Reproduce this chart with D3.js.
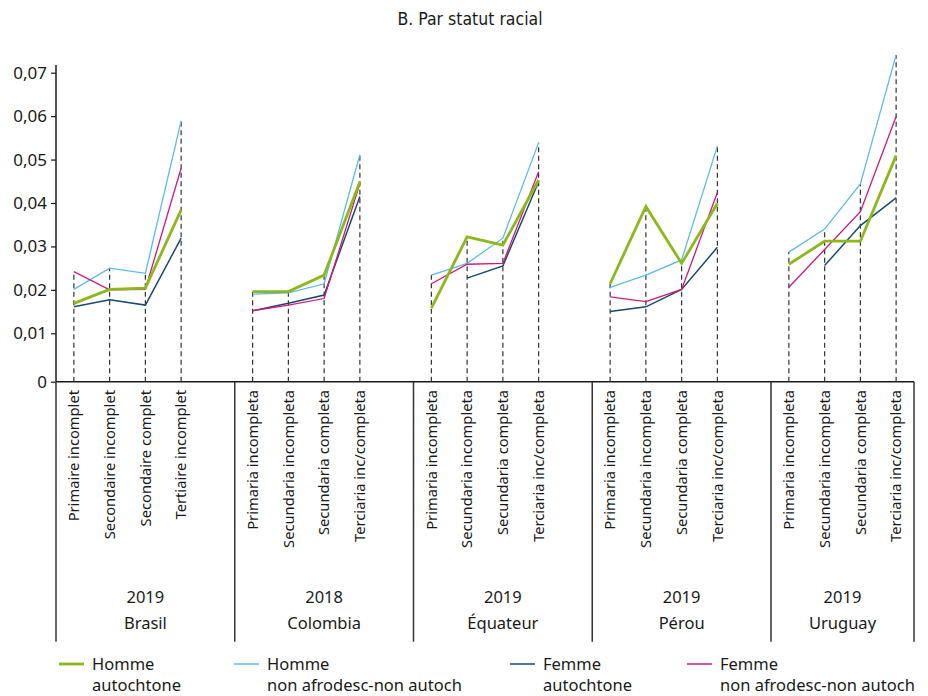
<!DOCTYPE html>
<html>
<head>
<meta charset="utf-8">
<script src="https://cdn.jsdelivr.net/npm/d3@7"></script>
<style>
  html, body { margin: 0; padding: 0; background: #fff; }
  svg { display: block; }
  text { font-family: "Noto Sans", "Open Sans", sans-serif; fill: #1a1a1a; }
</style>
</head>
<body>
<svg id="chart" width="928" height="696"></svg>
<script>
// ---------- DATA ----------
const countries = ["Brasil", "Colombia", "Équateur", "Pérou", "Uruguay"];
const years = ["2019", "2018", "2019", "2019", "2019"];
const categoriesBR = ["Primaire incomplet", "Secondaire incomplet", "Secondaire complet", "Tertiaire incomplet"];
const categoriesES = ["Primaria incompleta", "Secundaria incompleta", "Secundaria completa", "Terciaria inc/completa"];
const categoriesByCountry = [categoriesBR, categoriesES, categoriesES, categoriesES, categoriesES];

// values in order: Brasil(4), Colombia(4), Équateur(4), Pérou(4), Uruguay(4)
const hommeAutochtone = [0.0169, 0.0201, 0.0204, 0.0384,  0.0196, 0.0196, 0.0234, 0.0449,  0.0158, 0.0322, 0.0303, 0.0453,  0.0214, 0.0392, 0.0261, 0.0399,  0.0259, 0.0312, 0.0312, 0.0509];
const hommeNonAfroNonAutoch = [0.0201, 0.0250, 0.0238, 0.0589,  0.0190, 0.0193, 0.0214, 0.0511,  0.0234, 0.0261, 0.0319, 0.0539,  0.0206, 0.0234, 0.0269, 0.0531,  0.0287, 0.0340, 0.0444, 0.0741];
const femmeAutochtone = [0.0161, 0.0177, 0.0165, 0.0319,  0.0152, 0.0169, 0.0188, 0.0415,  null, 0.0227, 0.0255, 0.0449,  0.0150, 0.0161, 0.0201, 0.0298,  null, 0.0256, 0.0348, 0.0412];
const femmeNonAfroNonAutoch = [0.0242, 0.0200, 0.0201, 0.0480,  0.0152, 0.0165, 0.0180, 0.0445,  0.0214, 0.0259, 0.0261, 0.0472,  0.0184, 0.0173, 0.0201, 0.0424,  0.0206, 0.0293, 0.0380, 0.0599];

const yTicks = [0, 0.01, 0.02, 0.03, 0.04, 0.05, 0.06, 0.07];
const title = "B. Par statut racial";

const series = [
  { name: ["Homme", "non afrodesc-non autoch"], values: hommeNonAfroNonAutoch, color: "#5cbbea", width: 1.3 },
  { name: ["Femme", "autochtone"], values: femmeAutochtone, color: "#1b4a6e", width: 1.5 },
  { name: ["Femme", "non afrodesc-non autoch"], values: femmeNonAfroNonAutoch, color: "#d0197c", width: 1.3 },
  { name: ["Homme", "autochtone"], values: hommeAutochtone, color: "#8db81c", width: 2.8 }
];
const legendOrder = [3, 0, 1, 2];

// ---------- LAYOUT ----------
const svg = d3.select("#chart");
const left = 56, right = 914, yZero = 381.7, yTop = 65;

// slot keys: each country's categories followed by a spacer (except the last)
const slotKeys = [];
const points = []; // {key, country index, category, index into values}
countries.forEach((c, ci) => {
  categoriesByCountry[ci].forEach((cat, k) => {
    const key = c + "|" + cat;
    slotKeys.push(key);
    points.push({ key, ci, cat, vi: ci * 4 + k });
  });
  if (ci < countries.length - 1) slotKeys.push(c + "|gap");
});

const x = d3.scaleBand().domain(slotKeys).range([left, right]).padding(0);
const cx = key => x(key) + x.bandwidth() / 2;

// piecewise linear y scale (matching the original axis spacing)
const y = d3.scaleLinear().domain([0, 0.01, 0.07]).range([yZero, 333.3, 72.7]);

// ---------- TITLE ----------
svg.append("text")
  .attr("x", 470).attr("y", 25)
  .attr("text-anchor", "middle")
  .style("font-family", "'Liberation Sans Narrow', 'DejaVu Sans Condensed', sans-serif")
  .style("font-size", "17.5px")
  .text(title);

// ---------- Y AXIS ----------
const yAxis = d3.axisLeft(y).tickValues(yTicks).tickSize(5).tickPadding(4)
  .tickFormat(d => d === 0 ? "0" : d3.format(".2f")(d).replace(".", ","));
const gy = svg.append("g").attr("transform", `translate(${left},0)`).call(yAxis);
gy.select(".domain").remove();
gy.selectAll(".tick line").attr("stroke", "#1a1a1a").attr("stroke-width", 1.2);
gy.selectAll(".tick text").style("font-size", "17px").style("font-family", "'Noto Sans', sans-serif").attr("fill", "#1a1a1a");
svg.append("line").attr("x1", left).attr("x2", left).attr("y1", yTop).attr("y2", yZero)
  .attr("stroke", "#1a1a1a").attr("stroke-width", 1.5);

// ---------- X AXIS / GROUP BOXES ----------
svg.append("line").attr("x1", left).attr("x2", right).attr("y1", yZero).attr("y2", yZero)
  .attr("stroke", "#1a1a1a").attr("stroke-width", 1.5);

const boundaries = countries.map((c, ci) => x(c + "|" + categoriesByCountry[ci][0]));
boundaries.push(right);
boundaries.forEach(bx => {
  svg.append("line").attr("x1", bx).attr("x2", bx).attr("y1", yZero).attr("y2", 641.7)
    .attr("stroke", "#333").attr("stroke-width", 1.5);
});

countries.forEach((c, ci) => {
  const mid = (boundaries[ci] + boundaries[ci + 1]) / 2;
  svg.append("text").attr("x", mid).attr("y", 603).attr("text-anchor", "middle")
    .style("font-size", "16.5px").text(years[ci]);
  svg.append("text").attr("x", mid).attr("y", 629).attr("text-anchor", "middle")
    .style("font-size", "16.5px").text(c);
});

// category labels (rotated)
svg.append("g").selectAll("text").data(points).join("text")
  .attr("transform", d => `translate(${cx(d.key)},390) rotate(-90)`)
  .attr("text-anchor", "end")
  .attr("dy", "0.36em")
  .style("font-size", "14.7px")
  .text(d => d.cat);

// ---------- DASHED DROP LINES ----------
svg.append("g").selectAll("line").data(points).join("line")
  .attr("x1", d => cx(d.key)).attr("x2", d => cx(d.key))
  .attr("y1", yZero)
  .attr("y2", d => y(d3.max(series, s => s.values[d.vi])))
  .attr("stroke", "#333").attr("stroke-width", 1.2)
  .attr("stroke-dasharray", "5,3.5");

// ---------- LINES ----------
const line = d3.line()
  .defined(d => d.v != null)
  .x(d => cx(d.key))
  .y(d => y(d.v));

series.forEach(s => {
  countries.forEach((c, ci) => {
    const seg = points.filter(p => p.ci === ci).map(p => ({ key: p.key, v: s.values[p.vi] }));
    svg.append("path").datum(seg)
      .attr("d", line)
      .attr("fill", "none")
      .attr("stroke", s.color)
      .attr("stroke-width", s.width)
      .attr("stroke-linejoin", "miter");
  });
});

// ---------- LEGEND ----------
const legendX = [59, 234, 510, 687];
legendOrder.forEach((si, i) => {
  const s = series[si];
  const g = svg.append("g").attr("transform", `translate(${legendX[i]},0)`);
  g.append("line").attr("x1", 0).attr("x2", 25).attr("y1", 664).attr("y2", 664)
    .attr("stroke", s.color).attr("stroke-width", si === 3 ? 2.8 : 1.5);
  g.append("text").attr("x", 33).attr("y", 669.5).style("font-size", "16.5px").text(s.name[0]);
  g.append("text").attr("x", 33).attr("y", 691).style("font-size", "16.5px").text(s.name[1]);
});
</script>
</body>
</html>
